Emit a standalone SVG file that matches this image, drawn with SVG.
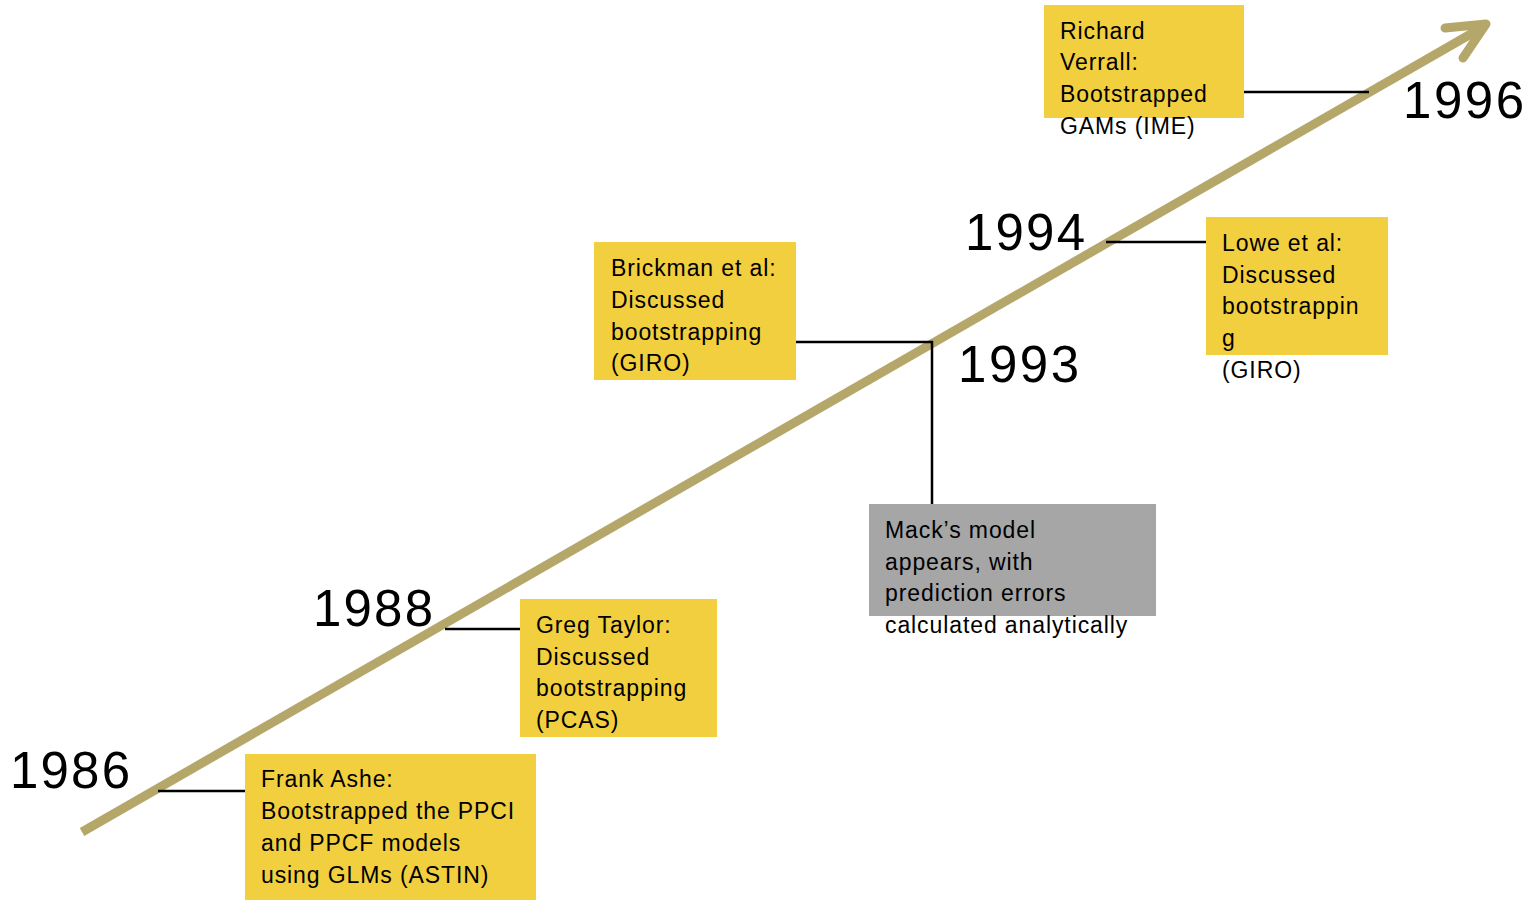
<svg xmlns="http://www.w3.org/2000/svg" width="1534" height="900" viewBox="0 0 1534 900">
<style>
.box{fill:#f2cf3e}
.grey{fill:#a6a6a6}
.t{font-family:"Liberation Sans",Arial,sans-serif;font-size:23px;letter-spacing:0.9px;fill:#000}
.yr{font-family:"Liberation Sans",Arial,sans-serif;font-size:51px;fill:#000}
.c{stroke:#000;stroke-width:2.5;fill:none}
.axis{stroke:#b5a76a;stroke-width:9;fill:none}
</style>
<rect width="1534" height="900" fill="#fff"/>
<g id="timeline">
<line class="axis" x1="82" y1="832" x2="1483" y2="27"/>
<polyline class="axis" points="1445,28 1486,24 1463,58" stroke-linecap="round" stroke-linejoin="round"/>
</g>
<g id="connectors">
<line class="c" x1="158" y1="791" x2="245" y2="791"/>
<line class="c" x1="445" y1="629" x2="520" y2="629"/>
<polyline class="c" points="796,342 932,342 932,504"/>
<line class="c" x1="1106" y1="242" x2="1206" y2="242"/>
<line class="c" x1="1244" y1="92" x2="1369" y2="92"/>
</g>
<g id="y1986"><text class="yr" x="10" y="788" textLength="120">1986</text></g>
<g id="y1988"><text class="yr" x="313" y="626" textLength="120">1988</text></g>
<g id="y1993"><text class="yr" x="958" y="382" textLength="121">1993</text></g>
<g id="y1994"><text class="yr" x="965" y="250" textLength="120">1994</text></g>
<g id="y1996"><text class="yr" x="1403" y="118" textLength="121">1996</text></g>
<g id="ashe">
<rect class="box" x="245" y="754" width="291" height="146"/>
<text class="t" x="261" y="787">Frank Ashe:</text>
<text class="t" x="261" y="819">Bootstrapped the PPCI</text>
<text class="t" x="261" y="851">and PPCF models</text>
<text class="t" x="261" y="883">using GLMs (ASTIN)</text>
</g>
<g id="taylor">
<rect class="box" x="520" y="599" width="197" height="138"/>
<text class="t" x="536" y="633">Greg Taylor:</text>
<text class="t" x="536" y="665">Discussed</text>
<text class="t" x="536" y="696">bootstrapping</text>
<text class="t" x="536" y="728">(PCAS)</text>
</g>
<g id="brickman">
<rect class="box" x="594" y="242" width="202" height="138"/>
<text class="t" x="611" y="276">Brickman et al:</text>
<text class="t" x="611" y="308">Discussed</text>
<text class="t" x="611" y="340">bootstrapping</text>
<text class="t" x="611" y="371">(GIRO)</text>
</g>
<g id="mack">
<rect class="grey" x="869" y="504" width="287" height="112"/>
<text class="t" x="885" y="538">Mack’s model</text>
<text class="t" x="885" y="570">appears, with</text>
<text class="t" x="885" y="601">prediction errors</text>
<text class="t" x="885" y="633">calculated analytically</text>
</g>
<g id="lowe">
<rect class="box" x="1206" y="217" width="182" height="138"/>
<text class="t" x="1222" y="251">Lowe et al:</text>
<text class="t" x="1222" y="283">Discussed</text>
<text class="t" x="1222" y="314">bootstrappin</text>
<text class="t" x="1222" y="346">g</text>
<text class="t" x="1222" y="378">(GIRO)</text>
</g>
<g id="verrall">
<rect class="box" x="1044" y="5" width="200" height="113"/>
<text class="t" x="1060" y="39">Richard</text>
<text class="t" x="1060" y="70">Verrall:</text>
<text class="t" x="1060" y="102">Bootstrapped</text>
<text class="t" x="1060" y="134">GAMs (IME)</text>
</g>
</svg>
